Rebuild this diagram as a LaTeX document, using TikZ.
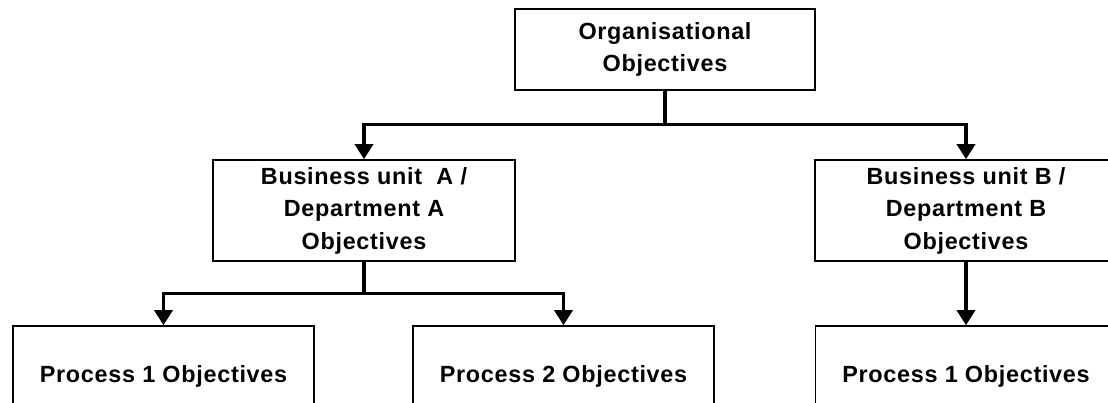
\documentclass[tikz,border=0pt]{standalone}
\usepackage{fontspec}
\setmainfont{Liberation Sans}[LetterSpace=3]
\usetikzlibrary{arrows.meta,calc}

\tikzset{
  box/.style={draw=black, line width=1.6pt, fill=white, align=center,
    inner sep=0pt, font=\bfseries\fontsize{23.4}{32.5}\selectfont},
  objbox/.style={box, minimum width=300pt, minimum height=101pt},
  topbox/.style={box, minimum width=300pt, minimum height=81pt},
  conn/.style={line width=3.4pt, line cap=butt, line join=miter},
  arr/.style={conn, -{Triangle[width=18pt,length=15pt]}},
}

\begin{document}
\begin{tikzpicture}[x=1pt, y=-1pt]
  \useasboundingbox (0,0) rectangle (1108,403);
  \clip (0,0) rectangle (1108,403);

  % objective boxes
  \node[topbox] (org) at (665,49.5) {Organisational\\Objectives};
  \node[objbox, minimum width=302pt] (buA) at (364,210.5)
    {Business unit\ \ A /\\Department A\\Objectives};
  \node[objbox, minimum width=302pt] (buB) at (966,210.5)
    {Business unit B /\\Department B\\Objectives};
  \node[objbox, minimum width=301pt] (pA1) at (163.5,376.5) {Process 1 Objectives};
  \node[objbox, minimum width=301pt] (pA2) at (563.5,376.5) {Process 2 Objectives};
  \node[objbox, minimum width=301pt] (pB1) at (966,376.5) {Process 1 Objectives};

  % junction points of the branching connectors
  \coordinate (jTop) at ($(org.south)+(0,33.5)$);
  \coordinate (jA)   at ($(buA.south)+(0,31.5)$);

  % connectors
  \draw[conn] (org.south) -- (jTop);
  \draw[arr] (jTop) -| (buA.north);
  \draw[arr] (jTop) -| (buB.north);
  \draw[conn] (buA.south) -- (jA);
  \draw[arr] (jA) -| (pA1.north);
  \draw[arr] (jA) -| (pA2.north);
  \draw[arr] (buB.south) -- (pB1.north);
\end{tikzpicture}
\end{document}
